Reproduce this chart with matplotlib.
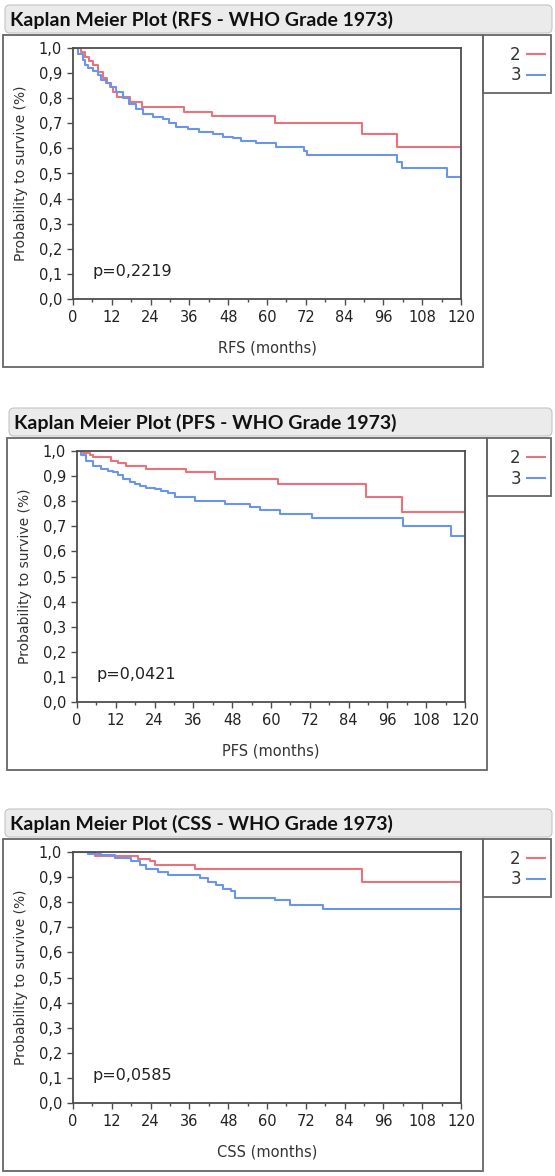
import matplotlib.pyplot as plt
from matplotlib.patches import Rectangle, FancyBboxPatch
from matplotlib.ticker import MultipleLocator

# Grades (WHO 1973) and their colours
groups = ['2', '3']
colors = ['#e9737b', '#6a95ea']

# RFS curves (months, survival)
rfs_t2 = [0, 2.5, 3.7, 5.0, 6.3, 7.8, 9.4, 10.5, 11.4, 12.5, 13.5, 17.5, 21.2, 34.3, 42.9, 62.5, 89.3, 100.1, 120]
rfs_s2 = [1.0, 0.985, 0.963, 0.950, 0.932, 0.906, 0.879, 0.860, 0.846, 0.826, 0.806, 0.786, 0.764, 0.746, 0.729, 0.700, 0.656, 0.604, 0.604]
rfs_t3 = [0, 1.5, 3.2, 3.7, 4.7, 6.3, 7.8, 8.8, 10.3, 11.8, 13.3, 15.4, 17.4, 19.5, 21.6, 24.7, 27.7, 29.8, 31.9,
          35.5, 39.1, 43.2, 46.3, 49.4, 52.0, 56.6, 62.8, 71.5, 72.5, 100.1, 101.7, 115.6, 120]
rfs_s3 = [1.0, 0.975, 0.952, 0.932, 0.919, 0.910, 0.892, 0.873, 0.859, 0.846, 0.826, 0.800, 0.777, 0.756, 0.737, 0.726, 0.716, 0.700, 0.686,
          0.676, 0.667, 0.656, 0.647, 0.640, 0.629, 0.620, 0.607, 0.590, 0.574, 0.547, 0.521, 0.485, 0.485]

# PFS curves
pfs_t2 = [0, 2.0, 3.9, 4.9, 10.6, 12.7, 15.3, 21.4, 33.8, 42.6, 62.3, 89.4, 100.4, 120]
pfs_s2 = [1.0, 0.993, 0.983, 0.975, 0.962, 0.952, 0.939, 0.930, 0.917, 0.890, 0.869, 0.817, 0.757, 0.757]
pfs_t3 = [0, 1.35, 2.9, 4.95, 7.5, 9.6, 11.1, 12.7, 14.2, 16.3, 17.8, 19.4, 21.4, 24.0, 26.1, 28.1, 30.2,
          36.4, 45.7, 53.5, 56.5, 62.8, 72.6, 100.9, 115.6, 120]
pfs_s3 = [1.0, 0.985, 0.960, 0.939, 0.930, 0.922, 0.917, 0.903, 0.890, 0.877, 0.869, 0.862, 0.853, 0.847, 0.840, 0.833, 0.816,
          0.800, 0.787, 0.777, 0.766, 0.750, 0.734, 0.701, 0.660, 0.660]

# CSS curves
css_t2 = [0, 6.7, 20.1, 23.7, 25.5, 37.6, 89.5, 120]
css_s2 = [1.0, 0.983, 0.973, 0.966, 0.950, 0.932, 0.880, 0.880]
css_t3 = [0, 4.6, 8.8, 12.9, 18.0, 20.6, 22.7, 26.3, 29.4, 39.2, 41.8, 44.3, 46.4, 49.0, 50.0, 62.5, 67.1, 77.4, 120]
css_s3 = [1.0, 0.993, 0.987, 0.976, 0.963, 0.950, 0.934, 0.920, 0.907, 0.897, 0.881, 0.868, 0.854, 0.844, 0.817, 0.807, 0.790, 0.773, 0.773]

titles = ['Kaplan Meier Plot (RFS - WHO Grade 1973)',
          'Kaplan Meier Plot (PFS - WHO Grade 1973)',
          'Kaplan Meier Plot (CSS - WHO Grade 1973)']
xlabels = ['RFS (months)', 'PFS (months)', 'CSS (months)']
p_values = ['p=0,2219', 'p=0,0421', 'p=0,0585']
x_ticks = [0, 12, 24, 36, 48, 60, 72, 84, 96, 108, 120]
y_ticks = [0.0, 0.1, 0.2, 0.3, 0.4, 0.5, 0.6, 0.7, 0.8, 0.9, 1.0]
y_tick_labels = ['0,0', '0,1', '0,2', '0,3', '0,4', '0,5', '0,6', '0,7', '0,8', '0,9', '1,0']

curves = [
    [(rfs_t2, rfs_s2), (rfs_t3, rfs_s3)],
    [(pfs_t2, pfs_s2), (pfs_t3, pfs_s3)],
    [(css_t2, css_s2), (css_t3, css_s3)],
]

# pixel offsets of each panel (x, y)
offsets = [(0, 0), (4, 403), (0, 804)]

W, H = 555, 1176
fig = plt.figure(figsize=(W / 100, H / 100), dpi=100)
plt.rcParams['font.family'] = ['DejaVu Sans']


def rect(x, y, w, h, **kw):
    # x, y in pixels from the top-left corner
    p = Rectangle((x / W, 1 - (y + h) / H), w / W, h / H, transform=fig.transFigure, **kw)
    fig.add_artist(p)


def rounded(x, y, w, h, **kw):
    p = FancyBboxPatch((x / 100, (H - y - h) / 100), w / 100, h / 100,
                       boxstyle='round,pad=0,rounding_size=0.05',
                       transform=fig.dpi_scale_trans, **kw)
    fig.add_artist(p)


for i in range(3):
    ox, oy = offsets[i]

    # title bar
    rounded(ox + 5, oy + 5, 552 - ox - 5, 28, facecolor='#ebebeb', edgecolor='#c4c4c4', lw=0.8)
    fig.text((ox + 10) / W, 1 - (oy + 20) / H, titles[i], ha='left', va='center',
             fontsize=14, fontweight='bold', color='#111111',
             family=['Lato', 'DejaVu Sans'])

    # outer frame and legend frame
    rect(ox + 3, oy + 35, 480, 332, fill=False, edgecolor='#666666', lw=1.3)
    rect(ox + 483, oy + 35, 551 - ox - 483, 58, fill=False, edgecolor='#666666', lw=1.3)

    ax = fig.add_axes([(ox + 73) / W, 1 - (oy + 299) / H, 388 / W, 251 / H])
    handles = []
    for (t, s), g, c in zip(curves[i], groups, colors):
        h, = ax.step(t, s, where='post', color=c, lw=1.5, label=g)
        handles.append(h)

    ax.set_xlim(0, 120)
    ax.set_ylim(0, 1)
    ax.set_xticks(x_ticks)
    ax.xaxis.set_minor_locator(MultipleLocator(6))
    ax.set_yticks(y_ticks)
    ax.set_yticklabels(y_tick_labels)
    for sp in ax.spines.values():
        sp.set_color('#4d4d4d')
        sp.set_linewidth(1.3)
    ax.tick_params(which='major', direction='out', length=4, width=1, color='#4d4d4d',
                   labelsize=10.5, labelcolor='#222222', pad=4)
    ax.tick_params(which='minor', direction='out', length=2.5, width=1, color='#4d4d4d')

    ax.set_xlabel(xlabels[i], fontsize=10.5, color='#333333')
    ax.xaxis.set_label_coords(0.5, -0.165)
    ax.set_ylabel('Probability to survive (%)', fontsize=10, color='#333333')
    ax.yaxis.set_label_coords(-0.115, 0.5)

    ax.text(6, 0.11, p_values[i], ha='left', va='center', fontsize=11.5, color='#222222')

    ax.legend(handles=handles, loc='upper right', markerfirst=False, frameon=False,
              bbox_to_anchor=(545 / W, 1 - (oy + 46) / H), bbox_transform=fig.transFigure,
              fontsize=12, handlelength=1.1, handletextpad=0.35, labelspacing=0.15,
              borderpad=0, borderaxespad=0, labelcolor='#333333')

fig.savefig('out.png', dpi=100)
